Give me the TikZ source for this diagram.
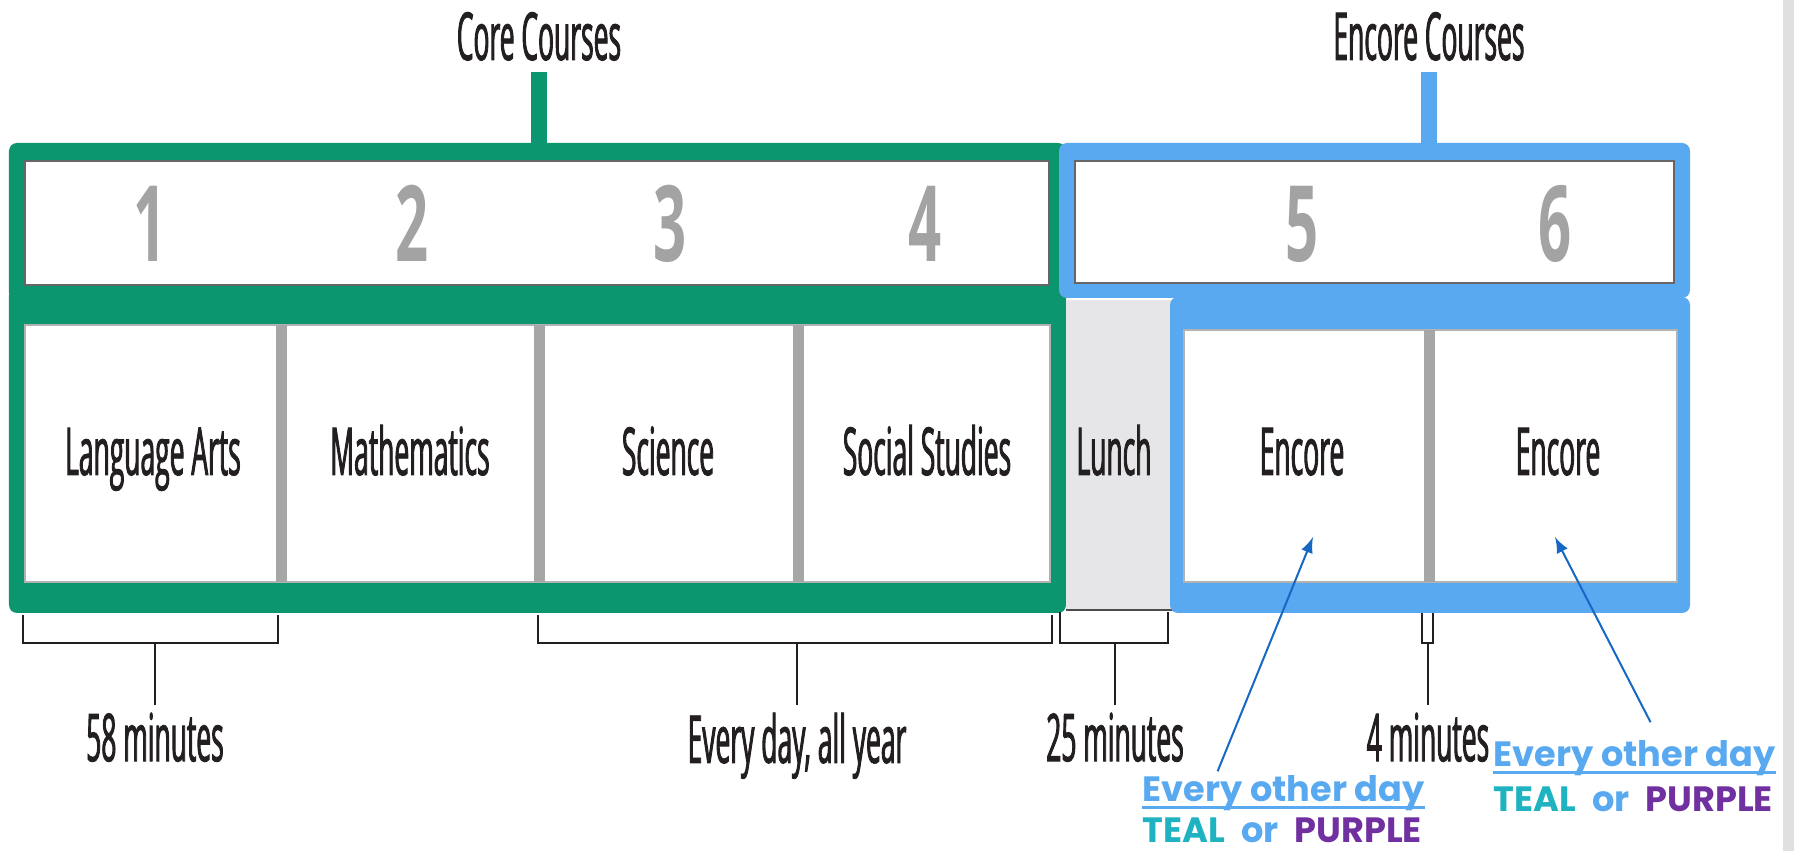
\documentclass[tikz,border=0pt]{standalone}
\usepackage{fontspec}
\newfontfamily\condfont[FakeStretch=0.40,FakeBold=1.3]{Open Sans}
\newfontfamily\numfont[FakeStretch=0.55]{Open Sans}
\newfontfamily\dayfont{Poppins}
\definecolor{coregreen}{HTML}{0C9670}
\definecolor{encoreblue}{HTML}{58A9F0}
\definecolor{divgray}{HTML}{A6A6A6}
\definecolor{lunchgray}{HTML}{E6E6E8}
\definecolor{numgray}{HTML}{A3A3A3}
\definecolor{textdark}{HTML}{231F20}
\definecolor{arrowblue}{HTML}{1668C4}
\definecolor{tealc}{HTML}{1FB3C2}
\definecolor{purplec}{HTML}{7030A0}
\definecolor{edgegray}{HTML}{E0E0E0}
\tikzset{
  cellname/.style={font=\condfont\fontsize{18.8}{20}\selectfont, text=textdark, inner sep=0pt, anchor=base},
  period/.style={font=\numfont\bfseries\fontsize{30}{32}\selectfont, text=numgray, inner sep=0pt, anchor=base},
  divider/.style={divgray, line width=0.11cm},
  bracket/.style={textdark, line width=0.025cm},
  stem/.style={line width=0.16cm},
  dayline/.style={font=\dayfont\bfseries\fontsize{10}{11}\selectfont, inner sep=0pt, anchor=base west},
}
\begin{document}
\begin{tikzpicture}[>=latex]
\useasboundingbox (0,0) rectangle (17.94,8.51);
\fill[edgegray] (17.83,0) rectangle (17.94,8.51);

% core frame
\fill[coregreen, rounded corners=0.08cm] (0.09,7.08) rectangle (10.66,5.50);
\fill[coregreen, rounded corners=0.08cm] (0.09,5.64) rectangle (10.66,2.38);
\filldraw[fill=white, draw=black!60, line width=0.02cm] (0.25,6.90) rectangle (10.49,5.66);
\filldraw[fill=white, draw=black!30, line width=0.02cm] (0.25,5.26) rectangle (10.50,2.69);
\foreach \x in {2.81,5.39,7.98}
    \draw[divider] (\x,5.26) -- (\x,2.69);

% lunch
\fill[lunchgray] (10.66,5.51) rectangle (11.72,2.41);
\draw[black!70, line width=0.02cm] (10.66,2.41) -- (11.72,2.41);

% encore frame
\fill[encoreblue, rounded corners=0.08cm] (10.59,7.08) rectangle (16.90,5.53);
\fill[encoreblue, rounded corners=0.08cm] (11.70,5.54) rectangle (16.90,2.38);
\filldraw[fill=white, draw=black!60, line width=0.02cm] (10.75,6.90) rectangle (16.74,5.68);
\filldraw[fill=white, draw=black!30, line width=0.02cm] (11.84,5.21) rectangle (16.77,2.69);
\draw[divider] (14.29,5.21) -- (14.29,2.69);

\foreach \n/\x in {1/1.50,2/4.12,3/6.70,4/9.25,5/13.02,6/15.55}
    \node[period] (p\n) at (\x,5.89) {\n};

\node[cellname] (la) at (1.53,3.76) {Language Arts};
\node[cellname] (ma) at (4.10,3.76) {Mathematics};
\node[cellname] (sc) at (6.68,3.76) {Science};
\node[cellname] (ss) at (9.27,3.76) {Social Studies};
\node[cellname] (lu) at (11.14,3.76) {Lunch};
\node[cellname] (ea) at (13.02,3.76) {Encore};
\node[cellname] (eb) at (15.58,3.76) {Encore};

% titles
\node[cellname] (core) at (5.39,7.91) {Core Courses};
\node[cellname] (encore) at (14.29,7.91) {Encore Courses};
\coordinate (coreedge) at (5.39,7.08);
\coordinate (encoreedge) at (14.29,7.08);
\draw[stem, coregreen, shorten <=0.11cm] (core.south) -- (coreedge);
\draw[stem, encoreblue, shorten <=0.11cm] (encore.south) -- (encoreedge);

% brackets
\node[cellname, anchor=north] (m58) at (1.55,1.39) {58 minutes};
\node[cellname, anchor=north] (yr) at (7.97,1.39) {Every day, all year};
\node[cellname, anchor=north] (m25) at (11.15,1.39) {25 minutes};
\node[cellname, anchor=north] (m4) at (14.28,1.39) {4 minutes};
\draw[bracket] (0.23,2.36) |- (2.78,2.08) -- (2.78,2.36);
\draw[bracket] (5.38,2.36) |- (10.52,2.08) -- (10.52,2.36);
\draw[bracket] (10.60,2.39) |- (11.68,2.08) -- (11.68,2.39);
\draw[bracket] (14.22,2.38) |- (14.33,2.08) -- (14.33,2.38);
\draw[bracket, shorten >=0.07cm] (1.55,2.08) -- (m58.north);
\draw[bracket, shorten >=0.07cm] (7.97,2.08) -- (yr.north);
\draw[bracket, shorten >=0.07cm] (11.15,2.08) -- (m25.north);
\draw[bracket, shorten >=0.07cm] (14.28,2.08) -- (m4.north);

% every other day
\node[dayline, text=encoreblue] (eodA) at (11.42,0.49) {Every other day};
\node[dayline] (colA) at (11.42,0.08) {\color{tealc}TEAL\hspace{0.16cm}\color{encoreblue}or\hspace{0.16cm}\color{purplec}PURPLE};
\node[dayline, text=encoreblue] (eodB) at (14.93,0.84) {Every other day};
\node[dayline] (colB) at (14.93,0.39) {\color{tealc}TEAL\hspace{0.16cm}\color{encoreblue}or\hspace{0.16cm}\color{purplec}PURPLE};
\draw[encoreblue, line width=0.03cm] ([yshift=-0.06cm]eodA.base west) -- ([yshift=-0.06cm]eodA.base east);
\draw[encoreblue, line width=0.03cm] ([yshift=-0.06cm]eodB.base west) -- ([yshift=-0.06cm]eodB.base east);

\coordinate (tipA) at (13.13,3.14);
\coordinate (tipB) at (15.55,3.14);
\draw[->, arrowblue, line width=0.02cm] ([xshift=-0.66cm,yshift=0.04cm]eodA.north) -- (tipA);
\draw[->, arrowblue, line width=0.02cm] ([xshift=0.16cm,yshift=0.18cm]eodB.north) -- (tipB);

\end{tikzpicture}
\end{document}
